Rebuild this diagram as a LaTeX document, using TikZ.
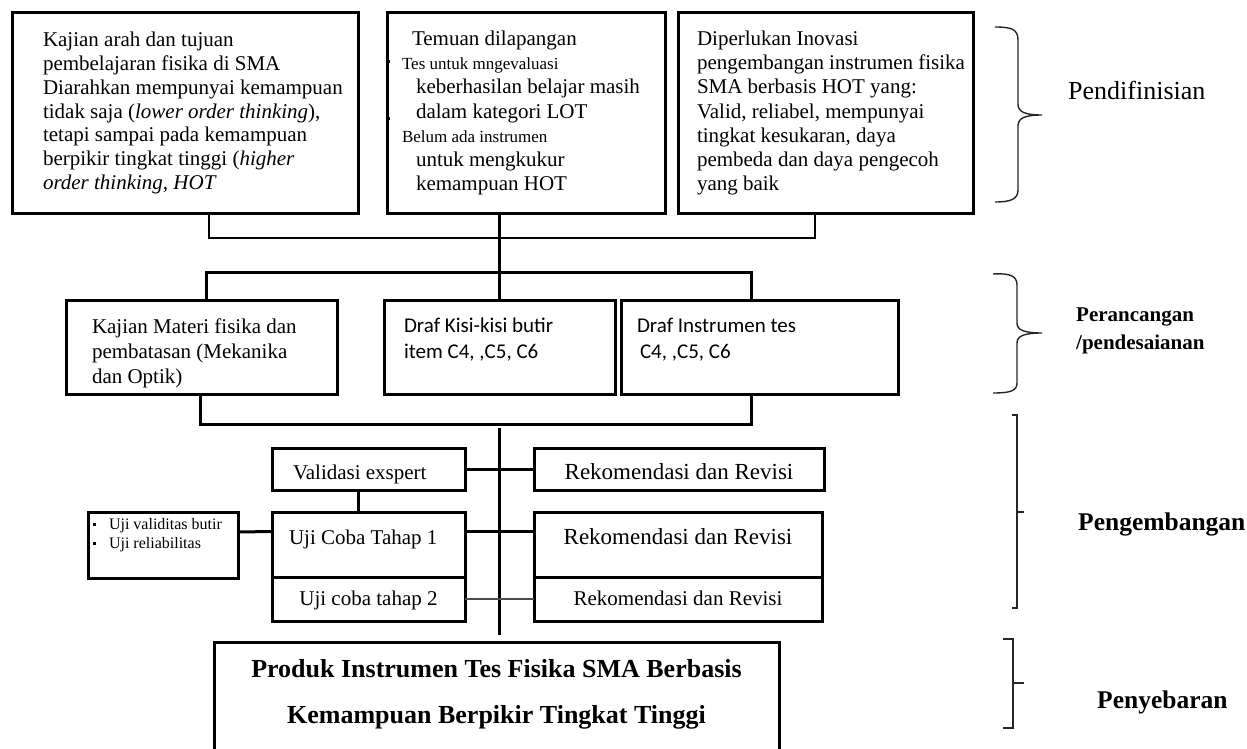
\documentclass[tikz,border=0pt]{standalone}
\usepackage{fontspec}
\setmainfont{Liberation Serif}
\newfontfamily\calibri{Carlito}
\newcommand{\kecil}{\fontsize{17}{24.2}\selectfont}
\newcommand{\titik}{\makebox[16pt][l]{\rule[3pt]{3pt}{3pt}}}

\begin{document}
\begin{tikzpicture}[x=1pt, y=-1pt,
    kotak/.style={draw, line width=3pt, anchor=north west, inner sep=0pt, outer sep=0pt},
    isi/.style={font=\fontsize{21}{23.7}\selectfont},
    judul/.style={anchor=base west, inner sep=0pt, font=\bfseries\fontsize{25.5}{30}\selectfont},
    peluru/.style={fill, inner sep=0pt, minimum size=3.5pt},
    garis/.style={line width=3pt},
    garistipis/.style={line width=1.6pt},
    kurung/.style={line width=1.4pt, black!85}]
    \useasboundingbox (0,0) rectangle (1247,749);

    \node[kotak, isi, minimum width=346pt, minimum height=200pt, text width=328pt, align=flush left]
        (kajian) at (12,13) {\leftskip=22pt Kajian arah dan tujuan\\ pembelajaran fisika di SMA\\ Diarahkan mempunyai kemampuan\\ tidak saja (\textit{lower order thinking}),\\ tetapi sampai pada kemampuan\\ berpikir tingkat tinggi (\textit{higher}\\ \textit{order thinking, HOT}\par};
    \node[kotak, font=\fontsize{21}{24.2}\selectfont, minimum width=278pt, minimum height=200pt, text width=248pt, align=flush left]
        (temuan) at (387,13) {\hspace*{10pt}Temuan dilapangan\\ {\kecil Tes untuk mngevaluasi}\\ \hspace*{14pt}keberhasilan belajar masih\\ \hspace*{14pt}dalam kategori LOT\\ {\kecil Belum ada instrumen}\\ \hspace*{14pt}untuk mengkukur\\ \hspace*{14pt}kemampuan HOT};
    \node[peluru] (titik1) at (388,61.5) {};
    \node[peluru] (titik2) at (388,118.5) {};
    \node[kotak, font=\fontsize{21}{24.2}\selectfont, minimum width=295pt, minimum height=200pt, text width=279pt, align=flush left]
        (inovasi) at (678,13) {\leftskip=11pt Diperlukan Inovasi\\ pengembangan instrumen fisika\\ SMA berbasis HOT yang:\\ Valid, reliabel, mempunyai\\ tingkat kesukaran, daya\\ pembeda dan daya pengecoh\\ yang baik\par};
    \node[anchor=base west, inner sep=0pt, font=\fontsize{26}{30}\selectfont] (definisi) at (1068,100) {Pendifinisian};

    \node[kotak, font=\fontsize{21}{25.3}\selectfont, minimum width=271pt, minimum height=94pt, text width=219pt, align=flush left, text depth=42pt]
        (materi) at (66,300) {Kajian Materi fisika dan\\ pembatasan (Mekanika\\ dan Optik)};
    \node[kotak, font=\calibri\fontsize{21}{26}\selectfont, minimum width=231pt, minimum height=94pt, text width=191pt, align=flush left, text depth=43pt]
        (kisi) at (384,300) {Draf Kisi-kisi butir\\ item C4, ,C5, C6};
    \node[kotak, font=\calibri\fontsize{21}{26}\selectfont, minimum width=277pt, minimum height=94pt, text width=245pt, align=flush left, text depth=43pt]
        (draf) at (621,300) {Draf Instrumen tes\\ \hspace*{3pt}C4, ,C5, C6};
    \node[anchor=base west, inner sep=0pt, text width=140pt, align=flush left, font=\bfseries\fontsize{21}{27.5}\selectfont]
        (rancang) at (1076,321.7) {Perancangan\\ /pendesaianan};

    \node[kotak, isi, minimum width=193pt, minimum height=42pt, text width=151pt, align=flush left, text height=21pt, text depth=0pt]
        (validasi) at (272,448) {Validasi exspert};
    \node[kotak, font=\fontsize{23}{26}\selectfont, minimum width=290pt, minimum height=42pt, text height=21pt, text depth=0pt]
        (revisi1) at (534,448) {Rekomendasi dan Revisi};
    \node[kotak, font=\fontsize{16}{19}\selectfont, minimum width=150pt, minimum height=66pt, text width=140pt, align=flush left, text depth=43pt]
        (uji) at (88,512) {\titik Uji validitas butir\\ \titik Uji reliabilitas};
    \node[kotak, isi, minimum width=193pt, minimum height=65pt, text width=159pt, align=flush left, text height=14pt, text depth=14pt]
        (uji1) at (272,512) {Uji Coba Tahap 1};
    \node[kotak, font=\fontsize{23}{26}\selectfont, minimum width=288pt, minimum height=65pt, text height=14pt, text depth=14pt]
        (revisi2) at (534,512) {Rekomendasi dan Revisi};
    \node[kotak, isi, minimum width=193pt, minimum height=44pt, text height=15pt, text depth=2pt]
        (uji2) at (272,577) {Uji coba tahap 2};
    \node[kotak, isi, minimum width=288pt, minimum height=44pt, text height=15pt, text depth=2pt]
        (revisi3) at (534,577) {Rekomendasi dan Revisi};
    \node[judul] (kembang) at (1078,530) {Pengembangan};

    \node[kotak, font=\bfseries\fontsize{26}{46}\selectfont, minimum width=565pt, minimum height=110pt, text width=540pt, align=flush center, text depth=58pt]
        (produk) at (214,642) {Produk Instrumen Tes Fisika SMA Berbasis\\ Kemampuan Berpikir Tingkat Tinggi};
    \node[judul] (sebar) at (1097,708) {Penyebaran};

    \coordinate (simpul1) at (499,238);
    \coordinate (simpul2) at (499,272);
    \coordinate (simpul3) at (499,424);
    \coordinate (simpul4) at (499,428);
    \coordinate (simpul5) at (499,635);

    \draw[garistipis] ([xshift=24pt]kajian.south) |- (simpul1) -| ([xshift=-10.5pt]inovasi.south);
    \draw[garis] (kisi.north |- temuan.south) -- (kisi.north);
    \draw[garis] ([xshift=4.5pt]materi.north) |- (simpul2) -| ([xshift=-8.5pt]draf.north);
    \draw[garis] ([xshift=-1.5pt]materi.south) |- (simpul3) -| ([xshift=-8.5pt]draf.south);
    \draw[garis] (simpul4) -- (simpul5);
    \draw[garis] (validasi.east) -- (revisi1.west);
    \draw[garis] ([xshift=-10pt]validasi.south) -- ([xshift=-10pt]uji1.north);
    \draw[garis] ([yshift=13pt]uji.east) -- ([yshift=13pt]uji1.west);
    \draw[garis] ([yshift=13pt]uji1.east) -- ([yshift=13pt]revisi2.west);
    \draw[line width=2pt, black!70] (uji2.east) -- (revisi3.west);

    \draw[kurung] (995,27) .. controls (1011,27) and (1018,29) .. (1018,40) -- (1018,104)
        .. controls (1018,112) and (1025,115) .. (1042,115) .. controls (1025,115) and (1018,118) .. (1018,126)
        -- (1018,190) .. controls (1018,199) and (1011,202) .. (995,202);
    \draw[kurung] (993,274) .. controls (1010,273) and (1017,276) .. (1017,285) -- (1017,323)
        .. controls (1017,330) and (1024,333) .. (1042,333) .. controls (1024,333) and (1017,336) .. (1017,343)
        -- (1017,383) .. controls (1017,391) and (1010,393) .. (993,393);
    \draw[kurung] (1012,415) -- (1017,415) -- (1017,608) -- (1012,608);
    \draw[kurung] (1017,512) -- (1024,512);
    \draw[kurung] (1003,639) -- (1013,639) -- (1013,728) -- (1003,728);
    \draw[kurung] (1013,683) -- (1024,683);
\end{tikzpicture}
\end{document}
